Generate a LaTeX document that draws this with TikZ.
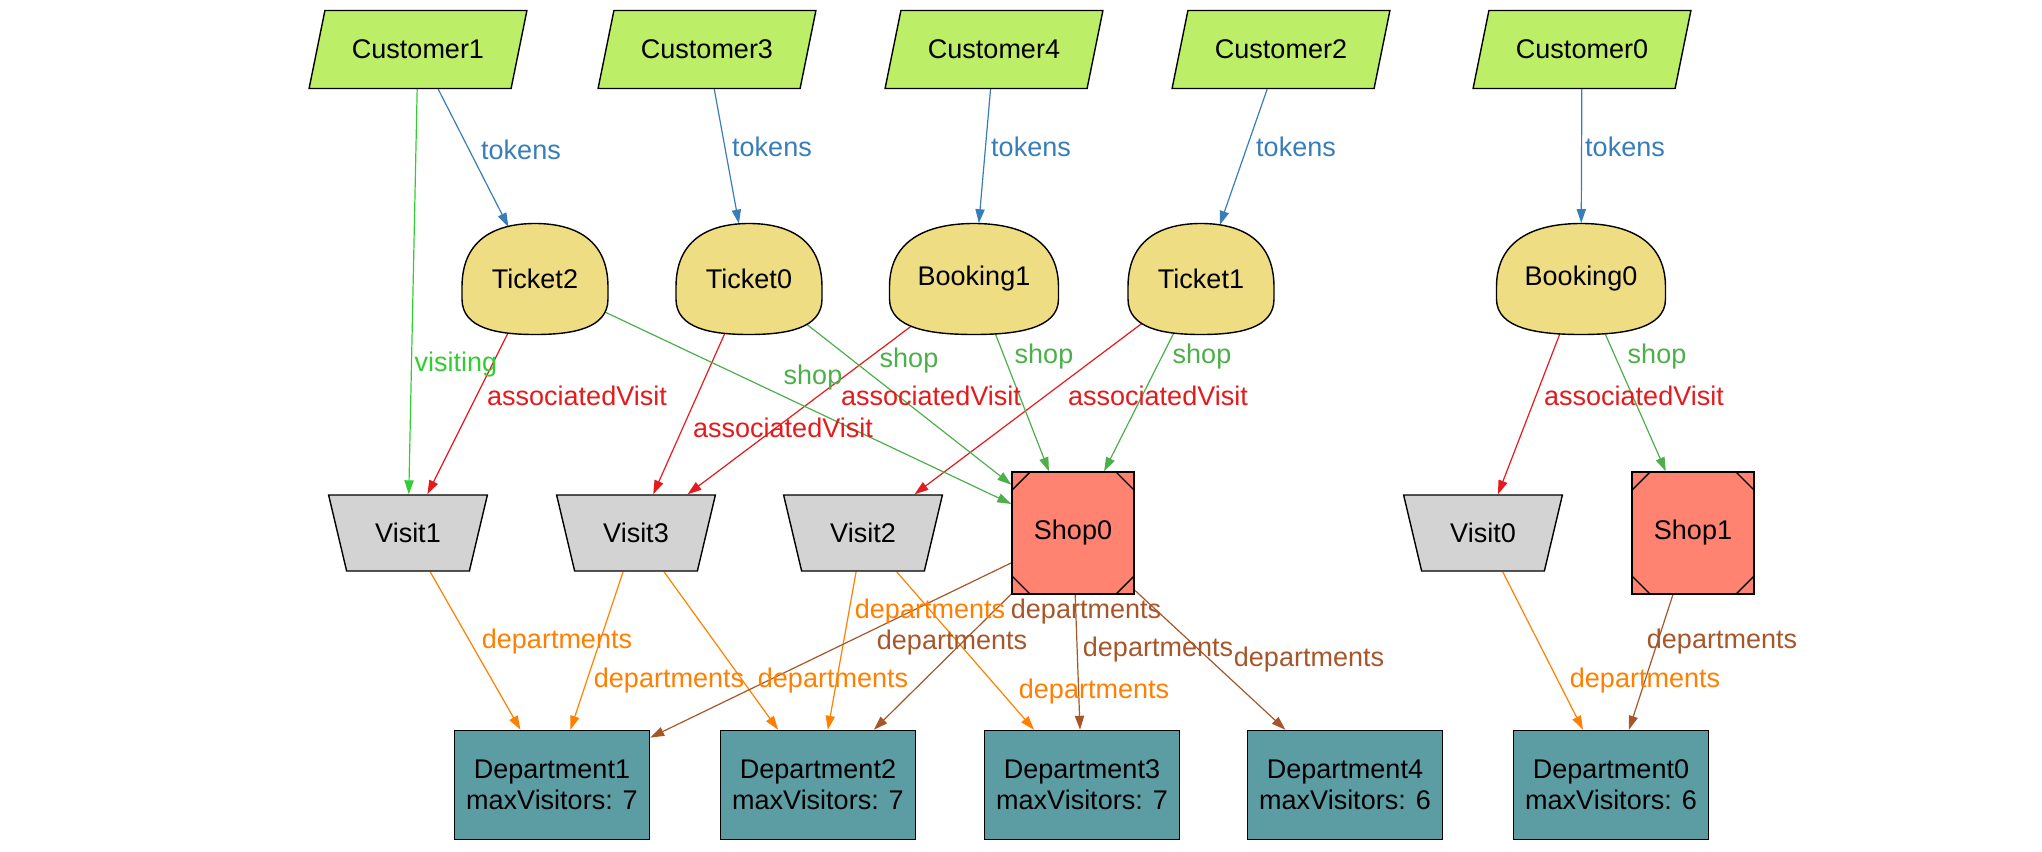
\documentclass[tikz,border=0pt]{standalone}
\usepackage{fontspec}
\setmainfont{Liberation Sans}
\usetikzlibrary{shapes.geometric,arrows.meta,backgrounds}

\definecolor{custfill}{HTML}{BCEE68}
\definecolor{tktfill}{HTML}{EEDD82}
\definecolor{visitfill}{HTML}{D3D3D3}
\definecolor{shopfill}{HTML}{FF8370}
\definecolor{deptfill}{HTML}{5B9DA2}
\definecolor{tokc}{HTML}{377EB8}
\definecolor{visc}{HTML}{E41A1C}
\definecolor{shopc}{HTML}{4DAF4A}
\definecolor{deptc}{HTML}{FF7F00}
\definecolor{sdeptc}{HTML}{A65628}
\definecolor{walkc}{HTML}{32CD32}

% rounded ticket outline round a node, #2 = half width
\newcommand{\tktblob}[2]{%
  \filldraw[fill=tktfill, line width=0.7pt, shift={(#1.center)}]
    (-#2,-8) .. controls (-#2,42) and ({-0.5*#2},55.5) .. (0,55.5)
    .. controls ({0.5*#2},55.5) and (#2,42) .. (#2,-8)
    -- (#2,-20) .. controls (#2,-50) and ({0.5*#2},-55.5) .. (0,-55.5)
    .. controls ({-0.5*#2},-55.5) and (-#2,-50) .. (-#2,-20) -- cycle;}

\begin{document}
\begin{tikzpicture}[x=0.5pt,y=0.5pt,
  font=\fontsize{13.5}{15.6}\selectfont,
  >={Triangle[length=7pt,width=4.6pt]},
  cust/.style={trapezium, trapezium left angle=63.4, trapezium right angle=116.6,
    trapezium stretches=true, minimum width=109.5pt, minimum height=39pt,
    inner sep=1pt, draw, fill=custfill, line width=0.7pt},
  tkt/.style={ellipse, minimum width=73pt, minimum height=55.5pt, inner sep=0pt},
  bkg/.style={tkt, minimum width=84.5pt},
  visit/.style={trapezium, trapezium angle=66.8, shape border rotate=180,
    trapezium stretches=true, minimum width=79.5pt, minimum height=38pt,
    inner sep=1pt, draw, fill=visitfill, line width=0.7pt},
  shopbox/.style={rectangle, draw, fill=shopfill, minimum size=61pt, line width=0.7pt,
    path picture={
      \draw[line width=0.7pt]
        ([yshift=-9pt]path picture bounding box.north west) -- ([xshift=9pt]path picture bounding box.north west)
        ([yshift=-9pt]path picture bounding box.north east) -- ([xshift=-9pt]path picture bounding box.north east)
        ([yshift=9pt]path picture bounding box.south west) -- ([xshift=9pt]path picture bounding box.south west)
        ([yshift=9pt]path picture bounding box.south east) -- ([xshift=-9pt]path picture bounding box.south east);}},
  dept/.style={rectangle, draw, fill=deptfill, minimum width=97.5pt, minimum height=54.5pt,
    align=center, line width=0.7pt},
  lbl/.style={inner sep=0pt},
  tok/.style={->, tokc, line width=0.6pt},
  avis/.style={->, visc, line width=0.6pt},
  shp/.style={->, shopc, line width=0.6pt},
  dep/.style={->, deptc, line width=0.6pt},
  sdep/.style={->, sdeptc, line width=0.6pt},
  walk/.style={->, walkc, line width=0.6pt}]
  \useasboundingbox (0,0) rectangle (2042,-852);

  % customers
  \node[cust] (c1) at (418,-49.5) {Customer1};
  \node[cust] (c3) at (707,-49.5) {Customer3};
  \node[cust] (c4) at (994,-49.5) {Customer4};
  \node[cust] (c2) at (1281,-49.5) {Customer2};
  \node[cust] (c0) at (1582,-49.5) {Customer0};

  % tickets and bookings
  \node[tkt] (t2) at (535,-279) {Ticket2};
  \node[tkt] (t0) at (749,-279) {Ticket0};
  \node[bkg] (b1) at (974,-279) {Booking1};
  \node[tkt] (t1) at (1201,-279) {Ticket1};
  \node[bkg] (b0) at (1581,-279) {Booking0};

  % visits and shops
  \node[visit] (v1) at (408,-533) {Visit1};
  \node[visit] (v3) at (636,-533) {Visit3};
  \node[visit] (v2) at (863,-533) {Visit2};
  \node[visit] (v0) at (1483,-533) {Visit0};
  \node[shopbox] (s0) at (1073,-533) {Shop0};
  \node[shopbox] (s1) at (1693,-533) {Shop1};

  % departments
  \node[dept] (d1) at (552,-785) {Department1\\maxVisitors: 7};
  \node[dept] (d2) at (818,-785) {Department2\\maxVisitors: 7};
  \node[dept] (d3) at (1082,-785) {Department3\\maxVisitors: 7};
  \node[dept] (d4) at (1345,-785) {Department4\\maxVisitors: 6};
  \node[dept] (d0) at (1611,-785) {Department0\\maxVisitors: 6};

  \begin{scope}[on background layer]
    \draw[walk] (c1) -- (v1);
    \draw[tok] (c1) -- (t2);
    \draw[tok] (c3) -- (t0);
    \draw[tok] (c4) -- (b1);
    \draw[tok] (c2) -- (t1);
    \draw[tok] (c0) -- (b0);
    \draw[avis] (t2) -- (v1);
    \draw[avis] (t0) -- (v3);
    \draw[avis] (b1) -- (v3);
    \draw[avis] (t1) -- (v2);
    \draw[avis] (b0) -- (v0);
    \draw[shp] (t2) -- (s0);
    \draw[shp] (t0) -- (s0);
    \draw[shp] (b1) -- (s0);
    \draw[shp] (t1) -- (s0);
    \draw[shp] (b0) -- (s1);
    \draw[dep] (v1) -- (d1);
    \draw[dep] (v3) -- (d1);
    \draw[dep] (v3) -- (d2);
    \draw[dep] (v2) -- (d2);
    \draw[dep] (v2) -- (d3);
    \draw[dep] (v0) -- (d0);
    \draw[sdep] (s0) -- (d1);
    \draw[sdep] (s0) -- (d2);
    \draw[sdep] (s0) -- (d3);
    \draw[sdep] (s0) -- (d4);
    \draw[sdep] (s1) -- (d0);
    \tktblob{t2}{73}
    \tktblob{t0}{73}
    \tktblob{b1}{84.5}
    \tktblob{t1}{73}
    \tktblob{b0}{84.5}
  \end{scope}

  % edge labels
  \node[lbl, text=walkc] (lw1) at (456,-365) {visiting};
  \node[lbl, text=tokc] (lt1) at (521,-150) {tokens};
  \node[lbl, text=tokc] (lt3) at (772,-147) {tokens};
  \node[lbl, text=tokc] (lt4) at (1031,-147) {tokens};
  \node[lbl, text=tokc] (lt2) at (1296,-147) {tokens};
  \node[lbl, text=tokc] (lt0) at (1625,-147) {tokens};
  \node[lbl, text=visc] (la2) at (577,-396) {associatedVisit};
  \node[lbl, text=visc] (la0) at (783,-428) {associatedVisit};
  \node[lbl, text=visc] (lab1) at (931,-396) {associatedVisit};
  \node[lbl, text=visc] (la1) at (1158,-396) {associatedVisit};
  \node[lbl, text=visc] (lab0) at (1634,-396) {associatedVisit};
  \node[lbl, text=shopc] (ls2) at (813,-378) {shop};
  \node[lbl, text=shopc] (ls0) at (909,-361) {shop};
  \node[lbl, text=shopc] (lsb1) at (1044,-357) {shop};
  \node[lbl, text=shopc] (ls1) at (1202,-357) {shop};
  \node[lbl, text=shopc] (lsb0) at (1657,-357) {shop};
  \node[lbl, text=deptc] (ld11) at (557,-642) {departments};
  \node[lbl, text=deptc] (ld31) at (669,-681) {departments};
  \node[lbl, text=deptc] (ld32) at (833,-681) {departments};
  \node[lbl, text=deptc] (ld22) at (930,-612) {departments};
  \node[lbl, text=deptc] (ld23) at (1094,-692) {departments};
  \node[lbl, text=deptc] (ld00) at (1645,-681) {departments};
  \node[lbl, text=sdeptc] (lsd1) at (952,-643) {departments};
  \node[lbl, text=sdeptc] (lsd2) at (1086,-612) {departments};
  \node[lbl, text=sdeptc] (lsd3) at (1158,-650) {departments};
  \node[lbl, text=sdeptc] (lsd4) at (1309,-660) {departments};
  \node[lbl, text=sdeptc] (lsd0) at (1722,-642) {departments};
\end{tikzpicture}
\end{document}
